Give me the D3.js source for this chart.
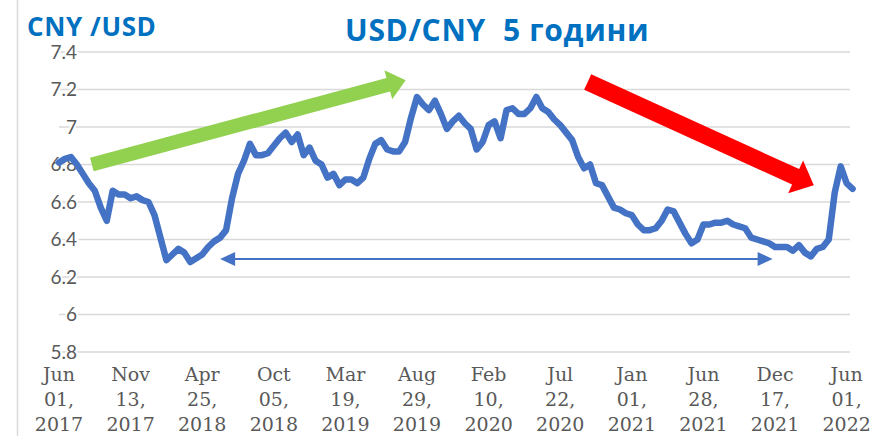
<!DOCTYPE html>
<html>
<head>
<meta charset="utf-8">
<script src="https://cdn.jsdelivr.net/npm/d3@7"></script>
<style>
  body { margin: 0; background: #fff; }
  svg { display: block; }
</style>
</head>
<body>
<div id="chart"></div>
<script>
// USD/CNY курс, приблизително на всеки ~2 седмици (прочетено от графиката)
const rates = [
  6.81, 6.83, 6.84, 6.80, 6.75, 6.70, 6.66, 6.57, 6.50, 6.66, 6.64, 6.64,
  6.62, 6.63, 6.61, 6.60, 6.53, 6.41, 6.29, 6.32, 6.35, 6.33, 6.28, 6.30,
  6.32, 6.36, 6.39, 6.41, 6.45, 6.62, 6.75, 6.82, 6.91, 6.85, 6.85, 6.86,
  6.90, 6.94, 6.97, 6.92, 6.96, 6.85, 6.89, 6.82, 6.80, 6.73, 6.75, 6.69,
  6.72, 6.72, 6.70, 6.73, 6.83, 6.91, 6.93, 6.88, 6.87, 6.87, 6.92, 7.05,
  7.16, 7.12, 7.09, 7.14, 7.07, 6.99, 7.03, 7.06, 7.02, 6.99, 6.88, 6.92,
  7.01, 7.03, 6.94, 7.09, 7.10, 7.07, 7.07, 7.10, 7.16, 7.10, 7.08, 7.04,
  7.01, 6.97, 6.93, 6.84, 6.78, 6.80, 6.70, 6.69, 6.63, 6.57, 6.56, 6.54,
  6.53, 6.48, 6.45, 6.45, 6.46, 6.50, 6.56, 6.55, 6.49, 6.43, 6.38, 6.40,
  6.48, 6.48, 6.49, 6.49, 6.50, 6.48, 6.47, 6.46, 6.41, 6.40, 6.39, 6.38,
  6.36, 6.36, 6.36, 6.34, 6.37, 6.33, 6.31, 6.35, 6.36, 6.40, 6.65, 6.79,
  6.70, 6.67
];

// етикети по оста X (на всеки 12 точки)
const tickMonths = ["Jun", "Nov", "Apr", "Oct", "Mar", "Aug", "Feb", "Jul", "Jan", "Jun", "Dec", "Jun"];
const tickDays = ["01,", "13,", "25,", "05,", "19,", "29,", "10,", "22,", "01,", "28,", "17,", "01,"];
const tickYears = ["2017", "2017", "2018", "2018", "2019", "2019", "2020", "2020", "2021", "2021", "2021", "2022"];
const tickEvery = 12;

const yTicks = [5.8, 6, 6.2, 6.4, 6.6, 6.8, 7, 7.2, 7.4];

// стрелки (в единици на данните: индекс, курс)
const greenArrow = [[5.5, 6.80], [58.1, 7.25]];
const redArrow = [[88.6, 7.24], [126.5, 6.69]];
const blueArrow = [[27.0, 6.296], [119.6, 6.296]];

const W = 876, H = 436;
const svg = d3.select("#chart").append("svg").attr("width", W).attr("height", H);
svg.append("rect").attr("width", W).attr("height", H).attr("fill", "#fff");

// лява граница на диаграмата
svg.append("line")
  .attr("x1", 17.5).attr("x2", 17.5).attr("y1", 0).attr("y2", H)
  .attr("stroke", "#d9d9d9").attr("stroke-width", 1.5);

const x = d3.scaleLinear().domain([0, rates.length - 1]).range([59, 59 + 5.967 * (rates.length - 1)]);
const y = d3.scaleLinear().domain([5.8, 7.4]).range([352, 52]);

// хоризонтални линии
svg.append("g")
  .selectAll("line")
  .data(yTicks)
  .join("line")
  .attr("x1", 59).attr("x2", 850)
  .attr("y1", (d) => y(d)).attr("y2", (d) => y(d))
  .attr("stroke", "#d9d9d9").attr("stroke-width", 1.5);

// етикети по оста Y
svg.append("g")
  .selectAll("text")
  .data(yTicks)
  .join("text")
  .attr("x", 77)
  .attr("y", (d) => y(d))
  .attr("dy", "0.35em")
  .attr("text-anchor", "end")
  .attr("font-family", "Lato, 'Open Sans', sans-serif")
  .attr("font-size", "19px")
  .attr("fill", "#595959")
  .attr("stroke", "#fff").attr("stroke-width", 4).attr("paint-order", "stroke")
  .text((d) => d3.format("~g")(d));

// етикети по оста X
const xt = svg.append("g")
  .selectAll("text")
  .data(tickMonths)
  .join("text")
  .attr("text-anchor", "middle")
  .attr("font-family", "'DejaVu Serif', serif")
  .attr("font-size", "19px")
  .attr("fill", "#595959")
  .attr("transform", (d, i) => `translate(${x(i * tickEvery)}, 381)`);
xt.append("tspan").attr("x", 0).attr("y", 0).text((d) => d);
xt.append("tspan").attr("x", 0).attr("y", 25).text((d, i) => tickDays[i]);
xt.append("tspan").attr("x", 0).attr("y", 50).text((d, i) => tickYears[i]);

// линията на курса
const line = d3.line().x((d, i) => x(i)).y((d) => y(d));
svg.append("path")
  .datum(rates)
  .attr("d", line)
  .attr("fill", "none")
  .attr("stroke", "#4472c4")
  .attr("stroke-width", 6.5)
  .attr("stroke-linejoin", "round")
  .attr("stroke-linecap", "round");

// дебела стрелка като полигон
function blockArrow(pts, shaftHalf, headHalf, headLen, color) {
  const p0 = [x(pts[0][0]), y(pts[0][1])];
  const p1 = [x(pts[1][0]), y(pts[1][1])];
  const dx = p1[0] - p0[0], dy = p1[1] - p0[1];
  const len = Math.hypot(dx, dy);
  const ux = dx / len, uy = dy / len;
  const nx = -uy, ny = ux;
  const b = [p1[0] - ux * headLen, p1[1] - uy * headLen];
  const poly = [
    [p0[0] + nx * shaftHalf, p0[1] + ny * shaftHalf],
    [b[0] + nx * shaftHalf, b[1] + ny * shaftHalf],
    [b[0] + nx * headHalf, b[1] + ny * headHalf],
    p1,
    [b[0] - nx * headHalf, b[1] - ny * headHalf],
    [b[0] - nx * shaftHalf, b[1] - ny * shaftHalf],
    [p0[0] - nx * shaftHalf, p0[1] - ny * shaftHalf],
  ];
  svg.append("polygon")
    .attr("points", poly.map((p) => p.join(",")).join(" "))
    .attr("fill", color);
}

blockArrow(greenArrow, 7, 15, 18, "#92d050");
blockArrow(redArrow, 8.5, 18, 20, "#ff0000");

// двупосочна синя стрелка
const bx0 = x(blueArrow[0][0]), bx1 = x(blueArrow[1][0]), by = y(blueArrow[0][1]);
svg.append("line")
  .attr("x1", bx0 + 10).attr("x2", bx1 - 10)
  .attr("y1", by).attr("y2", by)
  .attr("stroke", "#4472c4").attr("stroke-width", 2);
svg.append("polygon")
  .attr("points", `${bx0},${by} ${bx0 + 15},${by - 7} ${bx0 + 15},${by + 7}`)
  .attr("fill", "#4472c4");
svg.append("polygon")
  .attr("points", `${bx1},${by} ${bx1 - 15},${by - 7} ${bx1 - 15},${by + 7}`)
  .attr("fill", "#4472c4");

// заглавия
svg.append("text")
  .attr("x", 27).attr("y", 36)
  .attr("font-family", "'Open Sans', sans-serif")
  .attr("font-weight", "bold")
  .attr("font-size", "26px")
  .attr("letter-spacing", "0.6px")
  .attr("fill", "#0070c0")
  .text("CNY /USD");

svg.append("text")
  .attr("x", 345).attr("y", 41)
  .attr("font-family", "'Open Sans', sans-serif")
  .attr("font-weight", "bold")
  .attr("font-size", "30px")
  .attr("letter-spacing", "0.7px")
  .attr("fill", "#0070c0")
  .attr("xml:space", "preserve")
  .style("white-space", "pre")
  .text("USD/CNY  5 години");
</script>
</body>
</html>
